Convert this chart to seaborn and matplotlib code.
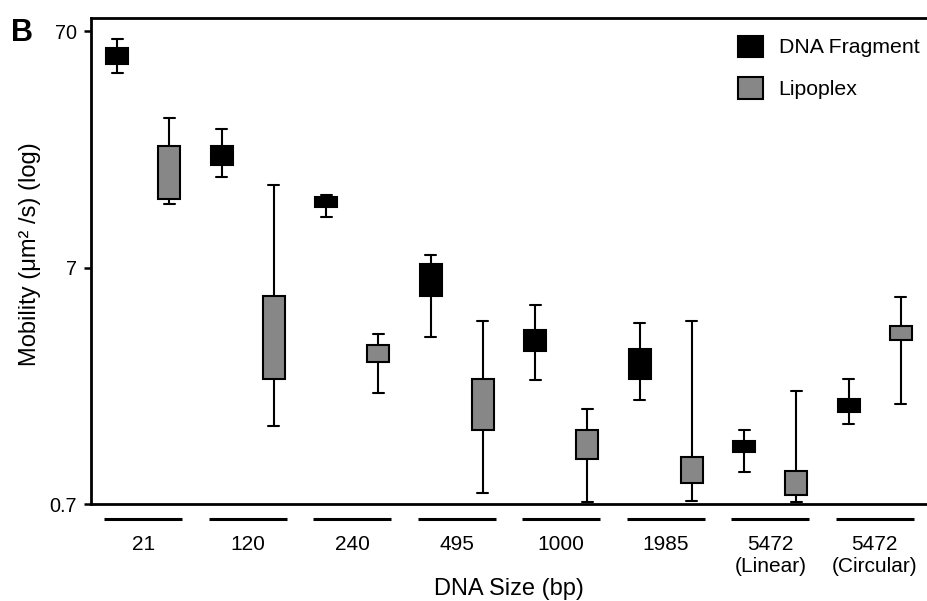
import matplotlib
matplotlib.use('Agg')
import pandas as pd
import seaborn as sns
from matplotlib import pyplot as plt
from matplotlib.ticker import NullLocator
from matplotlib.transforms import blended_transform_factory

sizes = ['21', '120', '240', '495', '1000', '1985', '5472\n(Linear)', '5472\n(Circular)']
groups = ['DNA Fragment', 'Lipoplex']

# values: whisker low, lower quartile, median, upper quartile, whisker high
fragment_low = [46.5, 16.9, 11.4, 3.55, 2.34, 1.92, 0.958, 1.52]
fragment_q1 = [51.0, 19.0, 12.6, 5.28, 3.10, 2.36, 1.16, 1.71]
fragment_med = [55.0, 21.0, 13.2, 6.2, 3.45, 2.75, 1.22, 1.82]
fragment_q3 = [59.5, 22.9, 13.9, 7.23, 3.81, 3.18, 1.29, 1.94]
fragment_high = [65.0, 27.0, 14.2, 7.94, 4.85, 4.06, 1.44, 2.37]

lipoplex_low = [13.0, 1.49, 2.06, 0.777, 0.716, 0.72, 0.716, 1.86]
lipoplex_q1 = [13.6, 2.36, 2.80, 1.44, 1.08, 0.856, 0.766, 3.44]
lipoplex_med = [17.6, 3.5, 3.05, 1.85, 1.25, 0.97, 0.86, 3.7]
lipoplex_q3 = [22.9, 5.28, 3.30, 2.37, 1.44, 1.11, 0.967, 3.98]
lipoplex_high = [30.1, 15.7, 3.66, 4.17, 1.76, 4.15, 2.10, 5.24]

rows = []
for i, s in enumerate(sizes):
    for v in (fragment_low[i], fragment_q1[i], fragment_med[i], fragment_q3[i], fragment_high[i]):
        rows.append({'size': s, 'type': 'DNA Fragment', 'mobility': v})
    for v in (lipoplex_low[i], lipoplex_q1[i], lipoplex_med[i], lipoplex_q3[i], lipoplex_high[i]):
        rows.append({'size': s, 'type': 'Lipoplex', 'mobility': v})
df = pd.DataFrame(rows)

sns.set_style('ticks', {'axes.edgecolor': 'black', 'text.color': 'black',
                        'axes.labelcolor': 'black', 'xtick.color': 'black',
                        'ytick.color': 'black'})
plt.rcParams['font.family'] = ['Liberation Sans', 'DejaVu Sans']

fig = plt.figure(figsize=(9.27, 6.01), dpi=100)
ax = fig.add_axes([91 / 927, 1 - 504 / 601, 1 - 91 / 927, (504 - 18) / 601])
ax.set_yscale('log')

sns.boxplot(data=df, x='size', y='mobility', hue='type', order=sizes, hue_order=groups,
            palette={'DNA Fragment': 'black', 'Lipoplex': '#878787'}, saturation=1,
            width=1.0, gap=0.58, whis=(0, 100), linecolor='black', linewidth=1.5,
            fliersize=0, medianprops={'linewidth': 0}, ax=ax)

ax.set_xlim(-0.5, 7.5)
ax.set_ylim(0.7, 79.5)
ax.set_yticks([0.7, 7, 70])
ax.set_yticklabels(['0.7', '7', '70'])
ax.yaxis.set_minor_locator(NullLocator())
ax.tick_params(axis='y', length=5, width=1.8, pad=5, labelsize=14.3, direction='out')
ax.tick_params(axis='x', length=0, pad=22, labelsize=15)

ax.spines['right'].set_visible(False)
for side in ('top', 'left', 'bottom'):
    ax.spines[side].set_linewidth(2)

# bars under each size category
trans = blended_transform_factory(ax.transData, ax.transAxes)
for i in range(len(sizes)):
    ax.plot([i - 0.375, i + 0.375], [-0.031, -0.031], transform=trans, color='black',
            lw=2.2, clip_on=False, solid_capstyle='butt')

ax.set_xlabel('DNA Size (bp)', fontsize=17)
ax.xaxis.set_label_coords(0.5, -0.152)
ax.set_ylabel('Mobility (μm² /s) (log)', fontsize=17)
ax.yaxis.set_label_coords(-0.06, 0.514)

sns.move_legend(ax, 'upper right', bbox_to_anchor=(1.005, 0.988), frameon=False, title=None,
                fontsize=15.3, handlelength=1.15, handleheight=1.15, labelspacing=0.95,
                handletextpad=0.75, borderaxespad=0.15)

fig.text(11 / 927, 1 - 41 / 601, 'B', fontsize=22, fontweight='bold', va='baseline')

fig.savefig('out.png', dpi=100)
